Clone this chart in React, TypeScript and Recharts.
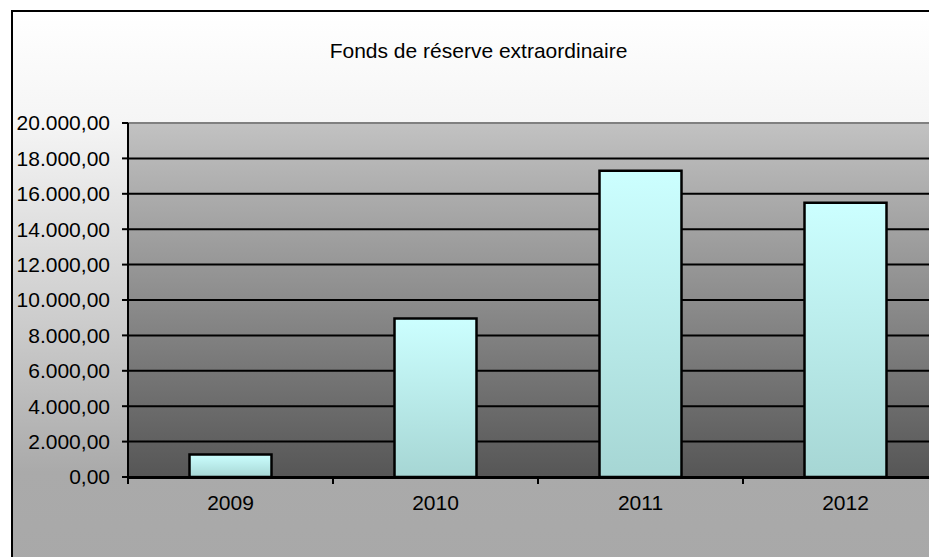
import { BarChart, Bar, XAxis, YAxis, CartesianGrid, ReferenceLine } from 'recharts';

const YEARS = ['2009', '2010', '2011', '2012'];
const FONDS = [1270, 8950, 17300, 15500];
const Y_TICKS = [0, 2000, 4000, 6000, 8000, 10000, 12000, 14000, 16000, 18000, 20000];
const EDGE_TICKS = [0, 1, 2, 3, 4];

const TITLE = 'Fonds de réserve extraordinaire';
const FONT = '"Liberation Sans", Arial, sans-serif';

// slot = category index, only used so the second x axis can put ticks between the bars
const data = YEARS.map((year, i) => ({ year, value: FONDS[i], slot: i + 0.5 }));

// 20000 -> "20.000,00"
function formatEuro(v: number) {
  const int = Math.round(v).toString().replace(/\B(?=(\d{3})+(?!\d))/g, '.');
  return `${int},00`;
}

export default function App() {
  return (
    <div
      style={{
        position: 'fixed',
        left: 0,
        top: 0,
        width: 929,
        height: 557,
        overflow: 'hidden',
        background: '#fff',
        fontFamily: FONT,
      }}
    >
      <div
        style={{
          position: 'absolute',
          left: 11,
          top: 10,
          width: 945,
          height: 570,
          border: '2px solid #000',
          background:
            'linear-gradient(to bottom, #ffffff 0px, #f5f5f5 110px, #c8c8c8 330px, #aaaaaa 460px, #a8a8a8 100%)',
        }}
      />
      <div
        style={{
          position: 'absolute',
          left: 0,
          width: 957,
          top: 39,
          textAlign: 'center',
          fontSize: 21,
          color: '#000',
          lineHeight: '24px',
        }}
      >
        {TITLE}
      </div>
      <div style={{ position: 'absolute', left: 0, top: 0 }}>
        <BarChart
          width={960}
          height={557}
          data={data}
          margin={{ top: 123, right: 12, bottom: 78, left: 0 }}
          barCategoryGap="30%"
          style={{ fontFamily: FONT }}
        >
          <defs>
            <linearGradient id="plotBg" x1="0" y1="0" x2="0" y2="1">
              <stop offset="0%" stopColor="#c2c2c2" />
              <stop offset="100%" stopColor="#565656" />
            </linearGradient>
            <linearGradient id="barFill" x1="0" y1="0" x2="0" y2="1">
              <stop offset="0%" stopColor="#ccffff" />
              <stop offset="100%" stopColor="#a6d6d4" />
            </linearGradient>
          </defs>
          <CartesianGrid
            xAxisId="cat"
            vertical={false}
            stroke="#000"
            strokeWidth={2}
            fill="url(#plotBg)"
            fillOpacity={1}
          />
          <ReferenceLine xAxisId="cat" y={20000} stroke="#808080" strokeWidth={2} />
          <XAxis
            xAxisId="edges"
            type="number"
            dataKey="slot"
            domain={[0, 4]}
            ticks={EDGE_TICKS}
            allowDataOverflow
            height={1}
            tickSize={6}
            tickFormatter={() => ''}
            axisLine={{ stroke: '#000', strokeWidth: 2 }}
            tickLine={{ stroke: '#000', strokeWidth: 2 }}
          />
          <XAxis
            xAxisId="cat"
            dataKey="year"
            height={1}
            axisLine={false}
            tickLine={false}
            tickSize={0}
            tickMargin={18}
            tick={{ fill: '#000', fontSize: 21 }}
          />
          <YAxis
            width={128}
            domain={[0, 20000]}
            ticks={Y_TICKS}
            interval={0}
            tickFormatter={formatEuro}
            tickSize={6}
            tickMargin={12}
            axisLine={{ stroke: '#000', strokeWidth: 2 }}
            tickLine={{ stroke: '#000', strokeWidth: 2 }}
            tick={{ fill: '#000', fontSize: 21 }}
          />
          <Bar
            xAxisId="cat"
            dataKey="value"
            fill="url(#barFill)"
            stroke="#000"
            strokeWidth={2.5}
            isAnimationActive={false}
          />
        </BarChart>
      </div>
    </div>
  );
}
